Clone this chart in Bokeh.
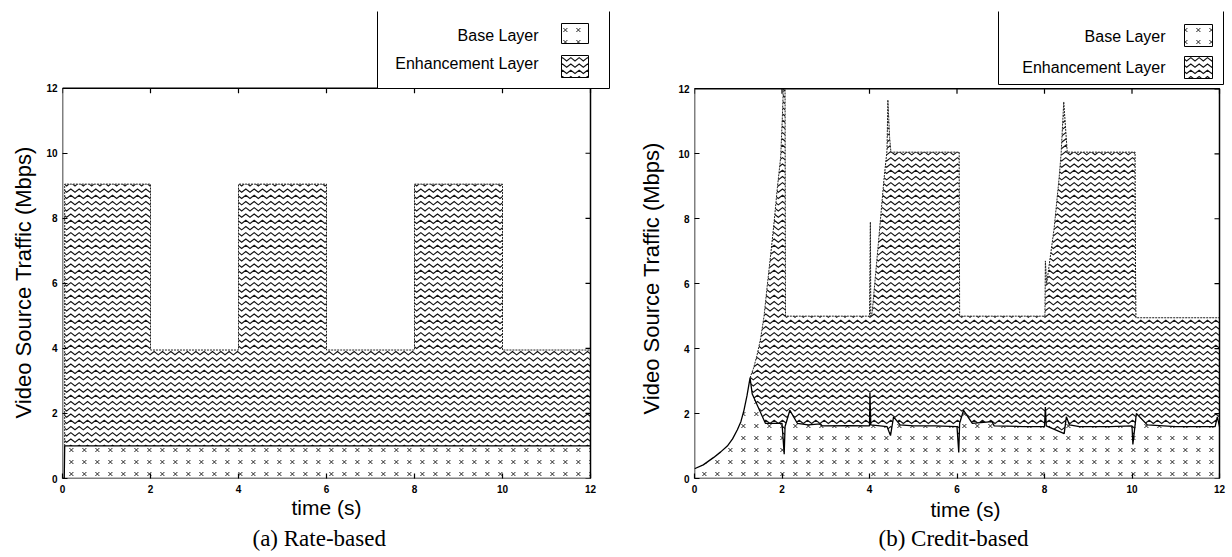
import base64
import math
from bokeh.plotting import figure
from bokeh.layouts import row
from bokeh.models import (Range1d, FixedTicker, BoxAnnotation, Label, Title,
                          ImageURLTexture)
from bokeh.embed import file_html
from bokeh.resources import INLINE

# ---------------- data ----------------
x_ticks = [0, 2, 4, 6, 8, 10, 12]
y_ticks = [0, 2, 4, 6, 8, 10, 12]
x_label = "time (s)"
y_label = "Video Source Traffic (Mbps)"
legend_labels = ["Base Layer", "Enhancement Layer"]
panel_titles = ["(a) Rate-based", "(b) Credit-based"]

# (a) Rate-based
rate_base_t = [0.0, 0.04, 0.05, 12.0]
rate_base = [0.0, 0.0, 1.0, 1.0]
rate_total_t = [0.05, 0.05, 2.0, 2.0, 4.0, 4.0, 6.0, 6.0, 8.0, 8.0, 10.0, 10.0, 12.0]
rate_total = [1.0, 9.05, 9.05, 3.95, 3.95, 9.05, 9.05, 3.95, 3.95, 9.05, 9.05, 3.95, 3.95]

# (b) Credit-based
credit_base_t = [0.0, 0.2, 0.44, 0.6, 0.75, 0.87, 0.98, 1.06, 1.13, 1.2, 1.27, 1.32,
                 1.62, 2.0, 2.05, 2.07, 2.18, 2.35, 2.6, 2.88, 2.92, 3.5, 4.0, 4.01,
                 4.03, 4.4, 4.48, 4.55, 4.7, 5.0, 5.5, 6.0, 6.04, 6.06, 6.15, 6.35,
                 6.8, 6.85, 7.5, 8.0, 8.02, 8.04, 8.45, 8.5, 8.57, 8.8, 9.5, 10.0,
                 10.02, 10.1, 10.35, 11.0, 11.9, 11.95, 12.0]
credit_base = [0.3, 0.42, 0.65, 0.82, 1.0, 1.22, 1.5, 1.75, 2.1, 2.55, 3.1, 2.6,
               1.7, 1.7, 0.75, 1.6, 2.1, 1.7, 1.65, 1.68, 1.62, 1.63, 1.62, 2.63,
               1.65, 1.6, 1.32, 1.9, 1.65, 1.62, 1.62, 1.6, 0.8, 1.7, 2.1, 1.7,
               1.75, 1.62, 1.6, 1.6, 2.2, 1.62, 1.38, 1.9, 1.65, 1.6, 1.6, 1.62,
               1.05, 2.0, 1.65, 1.6, 1.6, 1.9, 1.6]
credit_total_t = [1.27, 1.35, 1.43, 1.51, 1.59, 1.66, 1.75, 1.82, 1.89, 1.97, 2.01,
                  2.03, 2.07, 2.08, 4.0, 4.02, 4.03, 4.06, 4.2, 4.33, 4.4, 4.42,
                  4.46, 4.49, 6.05, 6.06, 8.01, 8.02, 8.05, 8.22, 8.33, 8.38, 8.44,
                  8.52, 10.07, 10.08, 10.09, 12.0]
credit_total = [3.1, 3.4, 3.8, 4.3, 5.0, 5.9, 7.0, 7.9, 8.9, 9.9, 11.2,
                12.0, 12.0, 5.0, 5.0, 7.9, 5.0, 5.1, 7.2, 9.2, 10.1, 11.66,
                10.5, 10.05, 10.05, 5.0, 5.0, 6.7, 6.0, 7.7, 9.2, 10.0, 11.6,
                10.05, 10.05, 6.5, 4.95, 4.95]


# ---------------- textures (tiles as small svg images) ----------------
def svg_url(svg):
    return "data:image/svg+xml;base64," + base64.b64encode(svg.encode()).decode()


XMARK_SVG = ('<svg xmlns="http://www.w3.org/2000/svg" width="13" height="12">'
             '<path d="M4.4 4.0 L8.4 8.0 M8.4 4.0 L4.4 8.0" stroke="#222222" '
             'stroke-width="1" fill="none"/></svg>')


def zigzag_svg(size=25, rows=4, periods=3, amp=3.4):
    paths = []
    half = size / (2 * periods)
    for r in range(rows):
        y0 = (r + 0.5) * size / rows - amp / 2
        pts = []
        for k in range(-1, 2 * periods + 2):
            y = y0 + amp if k % 2 == 0 else y0
            pts.append(f"{k * half:.2f},{y:.2f}")
        paths.append('<polyline points="' + " ".join(pts) + '"/>')
    return (f'<svg xmlns="http://www.w3.org/2000/svg" width="{size}" height="{size}">'
            '<g stroke="#111111" stroke-width="1.15" fill="none">' + "".join(paths) +
            '</g></svg>')


XMARK_URL = svg_url(XMARK_SVG)
ZIGZAG_URL = svg_url(zigzag_svg())


def enhancement_polygon(total_t, total, base_t, base):
    lo, hi = total_t[0], total_t[-1]
    back = [(t, v) for t, v in zip(base_t, base) if lo <= t <= hi][::-1]
    xs = list(total_t) + [t for t, _ in back]
    ys = list(total) + [v for _, v in back]
    return xs, ys


def make_panel(base_t, base, total_t, total, title, geo, legend_pos, text_pos):
    (width, height, fl, ft, fr, fb, x_ppu, y_ppu) = geo
    # the frame spans canvas px fl..fr and ft..fb; the 0..12 chart box sits in its
    # lower-left part and the space above/right of it holds the legend
    x_end = (fr - fl) / x_ppu
    y_end = (fb - ft) / y_ppu
    p = figure(width=width, height=height,
               x_range=Range1d(0, x_end), y_range=Range1d(0, y_end),
               output_backend="svg", toolbar_location=None,
               min_border_left=fl, min_border_right=width - fr,
               min_border_top=ft, min_border_bottom=height - fb)
    p.xgrid.visible = False
    p.ygrid.visible = False
    p.outline_line_color = None
    p.background_fill_color = "white"
    p.border_fill_color = "white"

    base_hatch = dict(hatch_pattern="xmark",
                      hatch_extra={"xmark": ImageURLTexture(url=XMARK_URL)},
                      hatch_alpha=1.0)
    enh_hatch = dict(hatch_pattern="zig",
                     hatch_extra={"zig": ImageURLTexture(url=ZIGZAG_URL)},
                     hatch_alpha=1.0)

    # base layer (area from 0 up to the base curve)
    bx = list(base_t) + [base_t[-1], base_t[0]]
    by = list(base) + [0, 0]
    p.patch(bx, by, fill_alpha=0.0, line_color=None, **base_hatch)
    # enhancement layer (between base curve and total)
    ex, ey = enhancement_polygon(total_t, total, base_t, base)
    p.patch(ex, ey, fill_alpha=0.0, line_color=None, **enh_hatch)
    p.line(total_t, total, line_color="#222222", line_width=1.0, line_dash="2 1")
    p.line(base_t, base, line_color="black", line_width=1.3)

    # mirror ticks on the top and right edges of the chart box
    top = max(y_ticks)
    right = max(x_ticks)
    p.ray(x=[right] * len(y_ticks), y=y_ticks, length=5, length_units="screen",
          angle=math.pi, line_color="black", line_width=1.2)
    p.ray(x=x_ticks, y=[top] * len(x_ticks), length=5, length_units="screen",
          angle=-math.pi / 2, line_color="black", line_width=1.2)

    # chart box
    p.add_layout(BoxAnnotation(left=0, right=right, bottom=0, top=top,
                               fill_alpha=0.0, line_color="black", line_width=1.5,
                               line_alpha=1.0))

    for ax, ticks in ((p.xaxis[0], x_ticks), (p.yaxis[0], y_ticks)):
        ax.ticker = FixedTicker(ticks=ticks)
        ax.major_tick_in = 5
        ax.major_tick_out = 0
        ax.minor_tick_line_color = None
        ax.axis_line_color = None
        ax.major_tick_line_width = 1.2
        ax.major_tick_line_color = "black"
        ax.major_label_text_font = "Liberation Sans"
        ax.major_label_text_font_style = "bold"
        ax.major_label_text_font_size = "10px"
        ax.major_label_text_color = "black"
    p.xaxis.major_label_standoff = 6
    p.yaxis.major_label_standoff = 5

    (xl_off, xl_standoff, st_off, st_standoff, yl_off, yl_standoff) = text_pos
    p.add_layout(Title(text=x_label, align="left", offset=xl_off,
                       text_font="Liberation Sans", text_font_size="21px",
                       text_font_style="normal", text_color="black",
                       standoff=xl_standoff), "below")
    p.add_layout(Title(text=title, align="left", offset=st_off,
                       text_font="Liberation Serif", text_font_size="23px",
                       text_font_style="normal", text_color="black",
                       standoff=st_standoff), "below")
    p.add_layout(Title(text=y_label, align="left", offset=yl_off,
                       text_font="Liberation Sans", text_font_size="22px",
                       text_font_style="normal", text_color="black",
                       standoff=yl_standoff), "left")

    # legend (label on the left, swatch on the right)
    (bx0, bx1, by0, by1, tx, ty_base, ty_enh, sx0, sx1,
     sb0, sb1, se0, se1) = legend_pos
    su = dict(left_units="screen", right_units="screen",
              top_units="screen", bottom_units="screen")
    p.add_layout(BoxAnnotation(left=bx0, right=bx1, bottom=by0, top=by1,
                               fill_color="white", fill_alpha=1.0,
                               line_color="black", line_width=1.0, line_alpha=1.0, **su))
    p.add_layout(BoxAnnotation(left=sx0, right=sx1, bottom=sb0, top=sb1,
                               fill_color="white", fill_alpha=1.0, line_color="black",
                               line_width=1.0, line_alpha=1.0, **base_hatch, **su))
    p.add_layout(BoxAnnotation(left=sx0, right=sx1, bottom=se0, top=se1,
                               fill_color="white", fill_alpha=1.0, line_color="black",
                               line_width=1.0, line_alpha=1.0, **enh_hatch, **su))
    for txt, ty in ((legend_labels[0], ty_base), (legend_labels[1], ty_enh)):
        p.add_layout(Label(x=tx, y=ty, x_units="screen", y_units="screen", text=txt,
                           text_align="right", text_baseline="middle",
                           text_font="Liberation Sans", text_font_size="16px",
                           text_color="black"))
    return p


# geometry: width, height, frame left/top/right/bottom (canvas px), px per unit x/y
p1 = make_panel(rate_base_t, rate_base, rate_total_t, rate_total, panel_titles[0],
                (620, 557, 62, 9, 611, 478, 44.0, 392 / 12),
                (315, 547, 390, 468, 476, 443, 415, 499, 526, 435, 455, 401, 423),
                (229, -4, 190, 14, 60, 16))
p2 = make_panel(credit_base_t, credit_base, credit_total_t, credit_total, panel_titles[1],
                (612, 557, 74, 11, 604, 482, 43.75, 393 / 12),
                (304, 529, 394, 470, 471, 442, 411, 490, 518, 432, 454, 400, 422),
                (236, 0, 184, 6, 64, 23))

layout = row(p1, p2)
open("out.html", "w").write(file_html(layout, INLINE))
